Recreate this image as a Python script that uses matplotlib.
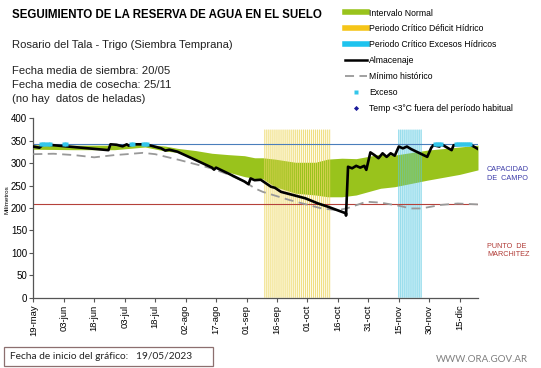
import datetime as dt
import matplotlib
matplotlib.use("Agg")
import matplotlib.pyplot as plt
from matplotlib.lines import Line2D
from matplotlib.patches import Rectangle

plt.rcParams['font.family'] = ['Liberation Sans', 'DejaVu Sans']

START = dt.date(2023, 5, 19)

# ---- data (days since 19-may, mm) ----
ALM_DAYS = [0, 3.3, 5, 37, 38, 41, 44.4, 46, 47.5, 49, 55.3, 58.5, 63.4, 65, 67, 71.6, 79.9,
            88, 89.3, 90.5, 96.3, 104.6, 106.2, 107.5, 109.5, 112, 117, 119.4, 122.7, 134.2,
            140.8, 145.8, 154, 154.7, 155.6, 157.7, 159.8, 161.5, 163, 164.7, 166.3, 168.8,
            170.5, 172, 174.6, 176.2, 178.7, 180.3, 182.8, 184.5, 186, 194.4, 196, 197.7,
            200, 201.7, 206, 207.5, 215.8, 219.9]
ALM_VALS = [337, 334.5, 342, 329, 342, 341, 337.5, 342, 339, 342, 342, 339, 333, 328, 330,
            325.5, 309, 290, 285.5, 290, 277, 259, 253, 266, 262, 263, 247.5, 245, 236, 221.6,
            210.5, 203, 188, 183, 292, 288.5, 294, 290, 294, 285, 324, 318,
            311, 322, 314, 322, 316.6, 337, 333, 337, 331.5, 314, 334.5, 340,
            337, 342, 329, 340, 342, 331.5]

MIN_DAYS = [0, 10, 20, 30, 40, 46, 54, 60, 72, 88, 96, 104.6, 109.5, 113.5, 126, 142.5,
            150, 155, 164, 171, 180, 186, 191, 201, 209, 219.7]
MIN_VALS = [320, 321, 318, 313, 318, 320, 323, 320, 307, 288, 275, 259, 244, 236, 218, 199,
            195, 200, 214, 212, 205, 199, 199, 207, 210, 208]

BAND_DAYS = [0, 20, 40, 55.3, 65, 71.6, 80, 88, 96.3, 104.6, 109.5, 113.5, 119.4, 129, 139,
             145, 152, 159, 171, 178, 194.4, 210.8, 219.7]
BAND_LOW = [331, 330, 330, 336, 327, 324, 309, 291, 280, 270, 266, 265, 247.5, 233, 229,
            225, 225, 229, 244, 247.5, 262, 275, 285]
BAND_HIGH = [341, 340, 340, 342, 338, 333, 328, 322, 319, 316.6, 312, 312, 309, 302, 302,
             309, 311, 310, 320, 318, 329, 336, 340]

EXC_DAYS = [4, 5, 6, 7, 8, 15, 16, 48, 49, 54, 55, 56, 198, 199, 200, 201,
            208, 209, 210, 211, 212, 213, 214, 215]
EXC_VALS = [343] * len(EXC_DAYS)

CAPACIDAD = 342
MARCHITEZ = 208
DEFICIT_PERIOD = (dt.date(2023, 9, 10), dt.date(2023, 10, 12))
EXCESO_PERIOD = (dt.date(2023, 11, 15), dt.date(2023, 11, 26))

TICK_LABELS = ['19-may', '03-jun', '18-jun', '03-jul', '18-jul', '02-ago', '17-ago', '01-sep',
               '16-sep', '01-oct', '16-oct', '31-oct', '15-nov', '30-nov', '15-dic']
# ----------------------------------------------------------


def to_dates(days):
    return [START + dt.timedelta(days=d) for d in days]


def daily(a, b):
    n = (b - a).days
    return [a + dt.timedelta(days=i) for i in range(n + 1)]


W, H = 541, 368
fig = plt.figure(figsize=(W / 100, H / 100), dpi=100)


def fx(x):
    return x / W


def fy(y):
    return 1 - y / H


ax = fig.add_axes([fx(33.3), fy(297.7), (478 - 33.3) / W, (297.7 - 118.3) / H])

ax.fill_between(to_dates(BAND_DAYS), BAND_LOW, BAND_HIGH, color='#99c31c', lw=0, zorder=1)

for (a, b), c_bg, c_ln in [(DEFICIT_PERIOD, '#fefbe8', '#ebd663'),
                           (EXCESO_PERIOD, '#e2f6fa', '#5cc9e2')]:
    days = daily(a, b)
    ax.fill_between([a, b], 0, 375, color=c_bg, lw=0, zorder=0.5)
    ax.vlines(days, 0, 375, color=c_ln, lw=0.55, zorder=2, snap=False)

ax.axhline(CAPACIDAD, color='#4a7ebb', lw=0.8, zorder=2.5)
ax.axhline(MARCHITEZ, color='#b5413a', lw=0.8, zorder=2.5)

ax.plot(to_dates(MIN_DAYS), MIN_VALS, color='#999999', lw=1.3, dashes=(5, 3), zorder=3)
ax.plot(to_dates(ALM_DAYS), ALM_VALS, color='black', lw=1.9, zorder=4)
ax.plot(to_dates(EXC_DAYS), EXC_VALS, ls='none', marker='s', ms=2.6, color='#33c6ea',
        mec='none', zorder=5)

ax.set_ylim(0, 400)
ax.set_yticks(range(0, 401, 50))
ax.set_xlim(START, START + dt.timedelta(days=219.7))
ticks = [START + dt.timedelta(days=15 * i) for i in range(len(TICK_LABELS))]
ax.set_xticks(ticks)
ax.set_xticklabels(TICK_LABELS, rotation=90)
ax.tick_params(axis='x', labelsize=6.8, length=3, color='#555555', pad=2)
ax.tick_params(axis='y', labelsize=7, length=3, color='#555555', pad=1.5)
for s in ['top', 'right']:
    ax.spines[s].set_visible(False)
for s in ['left', 'bottom']:
    ax.spines[s].set_color('#555555')
    ax.spines[s].set_linewidth(0.9)

fig.text(fx(7), fy(200), 'Milímetros', rotation=90, fontsize=4.5, ha='center', va='center')

# header texts
fig.text(fx(12), fy(14.5), 'SEGUIMIENTO DE LA RESERVA DE AGUA EN EL SUELO', fontsize=8.3,
         weight='bold', va='center')
fig.text(fx(12), fy(45), 'Rosario del Tala - Trigo (Siembra Temprana)', fontsize=8.1,
         va='center', color='#222222')
for y, t in [(70.5, 'Fecha media de siembra: 20/05'), (84.5, 'Fecha media de cosecha: 25/11'),
             (98.5, '(no hay  datos de heladas)')]:
    fig.text(fx(12), fy(y), t, fontsize=8.1, va='center', color='#222222')

fig.text(fx(487), fy(170), 'CAPACIDAD', fontsize=5.2, color='#3b3ba8', va='center')
fig.text(fx(487), fy(179), 'DE  CAMPO', fontsize=5.2, color='#3b3ba8', va='center')
fig.text(fx(487), fy(246.5), 'PUNTO  DE', fontsize=5.2, color='#b03a35', va='center')
fig.text(fx(487), fy(255), 'MARCHITEZ', fontsize=5.2, color='#b03a35', va='center')

# legend
handles = [
    Line2D([], [], color='#99c31c', lw=4),
    Line2D([], [], color='#f5c518', lw=4),
    Line2D([], [], color='#1ec3ee', lw=4),
    Line2D([], [], color='black', lw=1.8),
    Line2D([], [], color='#999999', lw=1.3, dashes=(5, 3)),
    Line2D([], [], ls='none', marker='s', ms=2.2, color='#33c6ea', mec='none'),
    Line2D([], [], ls='none', marker='D', ms=2.6, color='#1a1a9a', mec='none'),
]
labels = ['Intervalo Normal', 'Periodo Crítico Déficit Hídrico',
          'Periodo Crítico Excesos Hídricos', 'Almacenaje', 'Mínimo histórico',
          'Exceso', 'Temp <3°C fuera del período habitual']
fig.legend(handles, labels, loc='upper left', bbox_to_anchor=(fx(345), fy(8.5)),
           frameon=False, fontsize=6.2, handlelength=2.5, handletextpad=0.3,
           labelspacing=0.8, borderpad=0, borderaxespad=0)

# footer
fig.patches.append(Rectangle((fx(4), fy(366)), (213 - 4) / W, (366 - 347) / H,
                             transform=fig.transFigure, fill=False, ec='#8c6f6f', lw=0.9))
fig.text(fx(10), fy(356.5), 'Fecha de inicio del gráfico:   19/05/2023', fontsize=7.3,
         va='center', family='Lato', color='#222222')
fig.text(fx(528), fy(359), 'WWW.ORA.GOV.AR', fontsize=7, va='center', ha='right',
         family='Lato', color='#7f7f7f')

fig.savefig('out.png', dpi=100)
